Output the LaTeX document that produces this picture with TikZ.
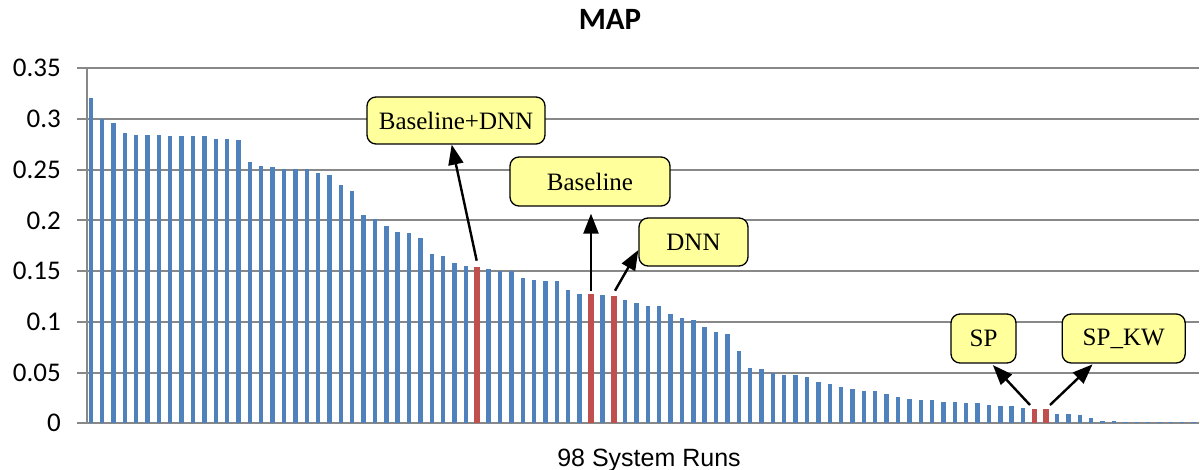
\documentclass[tikz,border=0pt]{standalone}
\usepackage{fontspec}
\setmainfont{Liberation Serif}
\newfontfamily\calfont{Carlito}
\newfontfamily\arialfont{Liberation Sans}
\usetikzlibrary{arrows.meta}
\definecolor{barblue}{HTML}{4F81BD}
\definecolor{barred}{HTML}{C0504D}
\definecolor{gridgray}{HTML}{888888}
\definecolor{calloutfill}{HTML}{FFFF9C}
\tikzset{
  gridline/.style={draw=gridgray, line width=2pt},
  bluebar/.style={fill=barblue},
  redbar/.style={fill=barred},
  ticklabel/.style={anchor=east, inner sep=0pt, font=\calfont\fontsize{27}{30}\selectfont},
  callout/.style={draw=black, line width=1.3pt, fill=calloutfill, rounded corners=9pt,
    inner sep=0pt, font=\fontsize{25}{30}\selectfont},
  pointer/.style={draw=black, line width=2.4pt, -{Triangle[length=20pt,width=15pt]}},
}
\begin{document}
\begin{tikzpicture}[x=1pt,y=-1pt]
\useasboundingbox (0,0) rectangle (1200,470);
% title
\node[font=\calfont\bfseries\fontsize{31}{34}\selectfont, inner sep=0pt] (title) at (610,19) {MAP};
% gridlines and axis
\foreach \k in {0,...,7} {
  \pgfmathsetmacro\gy{423.3-\k*0.05*1014.3}
  \draw[gridline] (77,\gy) -- (1199,\gy);
}
\draw[gridline] (86.7,68.3) -- (86.7,423.3);
% tick labels
\foreach \lab [count=\k from 0] in {0,0.05,0.1,0.15,0.2,0.25,0.3,0.35} {
  \pgfmathsetmacro\gy{423.3-\k*0.05*1014.3}
  \node[ticklabel] (yl\k) at (61,\gy) {\lab};
}
% bars
\foreach \v [count=\i] in {0.321,0.2997,0.2964,0.2859,0.2846,0.2846,0.2842,0.283,0.283,0.283,
  0.283,0.2803,0.2803,0.279,0.258,0.2537,0.2524,0.2507,0.2507,0.2507,
  0.2465,0.2448,0.2346,0.2287,0.205,0.201,0.1947,0.189,0.1876,0.183,
  0.1673,0.1653,0.158,0.155,0.1541,0.1521,0.1505,0.1505,0.1433,0.1416,
  0.1403,0.1403,0.1318,0.1272,0.1275,0.1268,0.1255,0.1213,0.1183,0.1153,
  0.1153,0.1078,0.1042,0.1019,0.095,0.090,0.0877,0.071,0.0549,0.0532,
  0.0493,0.0476,0.0476,0.046,0.0404,0.0388,0.0358,0.0342,0.0315,0.0315,
  0.0286,0.0256,0.024,0.0227,0.0227,0.021,0.021,0.0197,0.0197,0.018,
  0.0168,0.0168,0.0154,0.0141,0.0141,0.0095,0.0092,0.0079,0.0049,0.0023,
  0.002,0.0008,0.0008,0.0008,0.0008,0.0008,0.0008,0.0008} {
  \pgfmathsetmacro\xc{90.7+(\i-1)*11.37}
  \pgfmathsetmacro\yt{423.3-\v*1014.3}
  \pgfmathtruncatemacro\isred{(\i==35)||(\i==45)||(\i==47)||(\i==84)||(\i==85)}
  \ifnum\isred=1
    \fill[redbar] ({\xc-2.9},423.3) rectangle ({\xc+2.9},\yt);
  \else
    \fill[bluebar] ({\xc-2.2},423.3) rectangle ({\xc+2.2},\yt);
  \fi
}
% x axis title
\node[font=\arialfont\fontsize{25}{28}\selectfont, inner sep=0pt, anchor=base] (xt) at (649,466) {98 System Runs};
% callouts
\node[callout, minimum width=178pt, minimum height=47pt] (bdnn) at (456,120.5) {Baseline+DNN};
\node[callout, minimum width=160pt, minimum height=49pt] (base) at (590,181.5) {Baseline};
\node[callout, minimum width=109pt, minimum height=48pt] (dnn) at (693.5,242) {DNN};
\node[callout, minimum width=65pt, minimum height=49pt] (sp) at (983.5,338.5) {SP};
\node[callout, minimum width=123pt, minimum height=49pt] (spkw) at (1123.7,338.5) {SP\_KW};
% arrow start points above bars
\coordinate (s35) at (476.7,260.7);
\coordinate (s45) at (591,290.7);
\coordinate (s47) at (615,290.7);
\coordinate (s84) at (1030,405);
\coordinate (s85) at (1050,405);
\draw[pointer] (s35) -- ([xshift=-4.3pt]bdnn.south);
\draw[pointer, shorten >=7pt] (s45) -- (s45 |- base.south);
\draw[pointer] (s47) -- ([yshift=-8pt]dnn.west);
\draw[pointer, shorten >=2pt] (s84) -- ([xshift=8pt]sp.south);
\draw[pointer, shorten >=1pt] (s85) -- ([xshift=-30.4pt]spkw.south);
\end{tikzpicture}
\end{document}
